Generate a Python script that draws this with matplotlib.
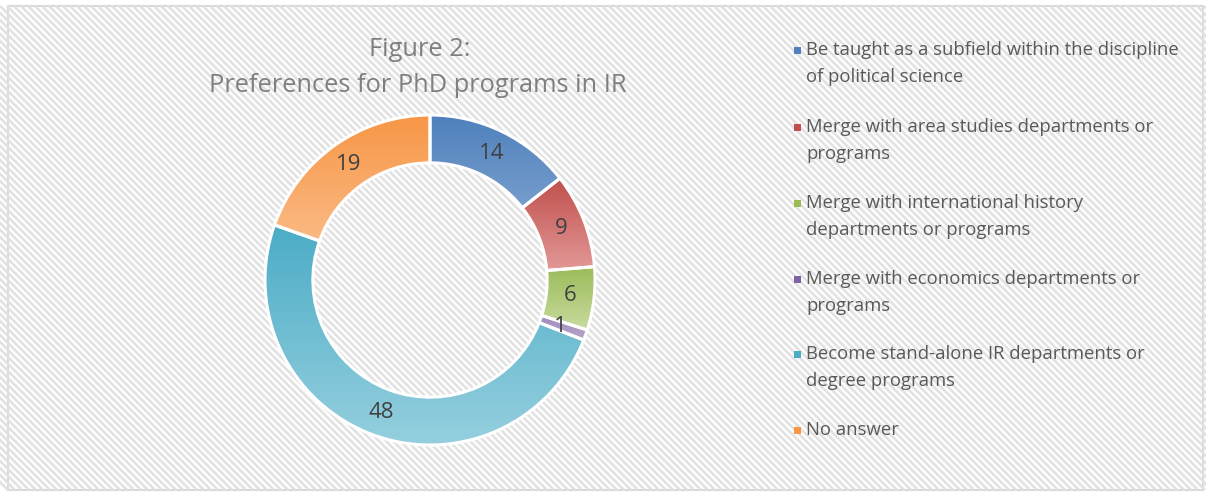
import numpy as np
import matplotlib
matplotlib.use("Agg")
import matplotlib.pyplot as plt
from matplotlib.collections import LineCollection
from matplotlib.patches import Rectangle
from matplotlib.colors import LinearSegmentedColormap

plt.rcParams['font.family'] = ['Open Sans', 'DejaVu Sans']

labels = ["Be taught as a subfield within the discipline\nof political science",
          "Merge with area studies departments or\nprograms",
          "Merge with international history\ndepartments or programs",
          "Merge with economics departments or\nprograms",
          "Become stand-alone IR departments or\ndegree programs",
          "No answer"]
values = [14, 9, 6, 1, 48, 19]
dark = ["#4F81BD", "#C0504D", "#9BBB59", "#8064A2", "#4BACC6", "#F79646"]
light = ["#95B3D7", "#E6A09E", "#C8DB9F", "#B7A6CC", "#97D0DF", "#FBC598"]

W, H = 1206, 493
fig = plt.figure(figsize=(W / 100, H / 100), dpi=100)

# background frame with diagonal stripes
x0, y0, x1, y1 = 8, 3, 1203, 487  # pixel coords from bottom
bg = fig.add_axes([0, 0, 1, 1])
bg.set_xlim(0, W)
bg.set_ylim(0, H)
bg.axis('off')
frame = Rectangle((x0, y0), x1 - x0, y1 - y0, facecolor='white', edgecolor='#D9D9D9', lw=1.5)
bg.add_patch(frame)
period = 7.0
segs = []
for c in np.arange(x0 - (y1 - y0), x1 + 10, period):
    segs.append([(c, y1), (c + (y1 - y0), y0)])
lc = LineCollection(segs, colors='#E2E2E2', linewidths=1.9)
lc.set_clip_path(frame)
bg.add_collection(lc)

# donut
cx, cy, R = 430, 493 - 280, 165
ax = fig.add_axes([(cx - R) / W, (cy - R) / H, 2 * R / W, 2 * R / H])
wedges, _ = ax.pie(values, startangle=90, counterclock=False, radius=1,
                   wedgeprops=dict(width=0.29, edgecolor='white', linewidth=2.2))

grad = np.linspace(0, 1, 256).reshape(-1, 1)
for w, d, l in zip(wedges, dark, light):
    verts = w.get_path().vertices
    ymin, ymax = verts[:, 1].min(), verts[:, 1].max()
    xmin, xmax = verts[:, 0].min(), verts[:, 0].max()
    cmap = LinearSegmentedColormap.from_list('g', [d, l])
    im = ax.imshow(grad, cmap=cmap, extent=[xmin, xmax, ymin, ymax], origin='upper',
                   aspect='auto', zorder=w.get_zorder() - 0.1)
    im.set_clip_path(w)
    w.set_facecolor('none')
ax.set_xlim(-1, 1)
ax.set_ylim(-1, 1)
ax.set_aspect('equal')

# value labels
total = sum(values)
ang = 90.0
for v, w in zip(values, wedges):
    mid = np.deg2rad(ang - v / total * 360 / 2)
    ang -= v / total * 360
    r = 0.855
    if v == 1:
        r = 0.84
    ax.text(r * np.cos(mid), r * np.sin(mid), str(v), ha='center', va='center',
            fontsize=16, color='#404040', zorder=10)

# title
fig.text(420 / W, 1 - 50 / H, "Figure 2:", ha='center', va='center', fontsize=18.3, color='#7F7F7F')
fig.text(418 / W, 1 - 85 / H, "Preferences for PhD programs in IR", ha='center', va='center', fontsize=18.3, color='#7F7F7F')

# legend
ys = [50, 127, 203, 279, 354, 430]
for lab, col, yy in zip(labels, dark, ys):
    bg.add_patch(Rectangle((794, H - yy - 4), 7, 7, facecolor=col, edgecolor='none', zorder=5))
    lines = lab.split("\n")
    for k, ln in enumerate(lines):
        fig.text(806 / W, 1 - (yy + 27 * k) / H, ln, ha='left', va='center', fontsize=13.3, color='#595959')

fig.savefig("out.png", dpi=100)
